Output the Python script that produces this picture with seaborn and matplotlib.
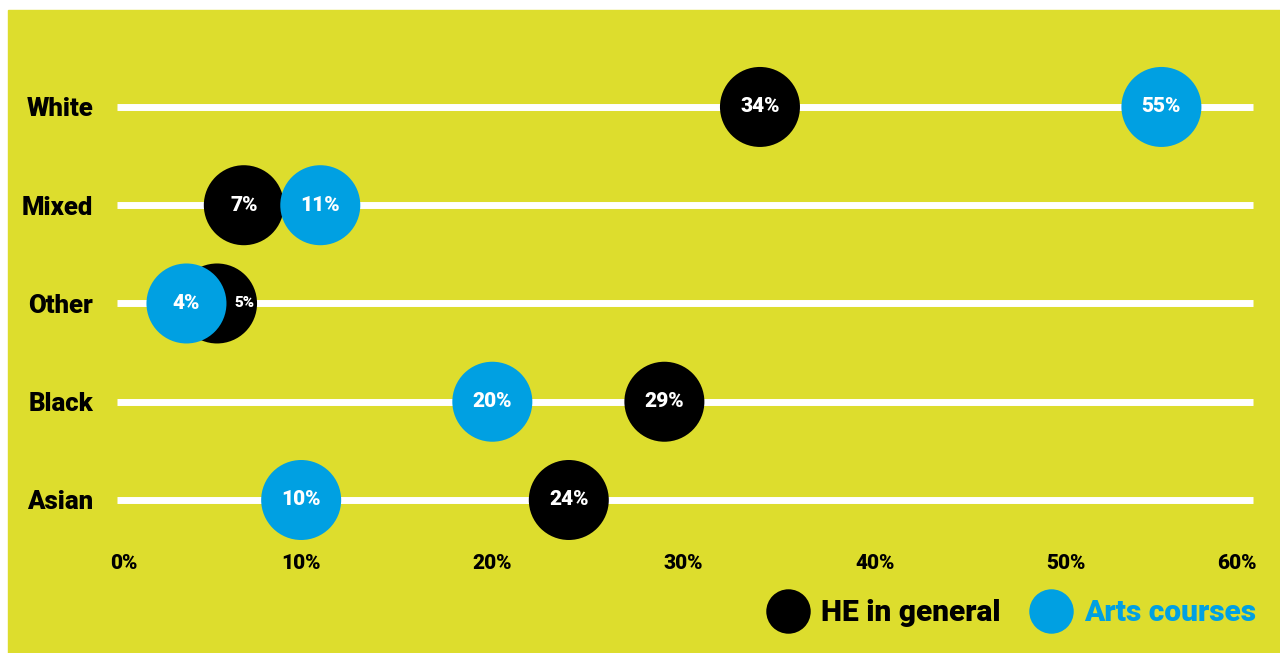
import matplotlib
matplotlib.use("Agg")
import matplotlib.pyplot as plt
from matplotlib.patches import Rectangle
from matplotlib.lines import Line2D
import seaborn as sns
import pandas as pd

# values (circle centres, in %)
groups = ["White", "Mixed", "Other", "Black", "Asian"]
he_general = [34, 7, 5.6, 29, 24]
arts_courses = [55, 11, 4, 20, 10]
he_labels = ["34%", "7%", "5%", "29%", "24%"]
arts_labels = ["55%", "11%", "4%", "20%", "10%"]
ticks = [0, 10, 20, 30, 40, 50, 60]
tick_labels = ["0%", "10%", "20%", "30%", "40%", "50%", "60%"]

bg = "#dddd2d"
blue = "#00a0e2"
black = "#000000"
font = ["Roboto", "Lato", "DejaVu Sans"]

df = pd.DataFrame({
    "group": groups * 2,
    "value": he_general + arts_courses,
    "series": ["HE in general"] * 5 + ["Arts courses"] * 5,
})

sns.set_style("white")
plt.rcParams["font.family"] = font
plt.rcParams["text.color"] = black
plt.rcParams["xtick.color"] = black
plt.rcParams["ytick.color"] = black

fig = plt.figure(figsize=(12.8, 6.53), dpi=100)
fig.patch.set_facecolor("white")
fig.patches.append(Rectangle((8 / 1280, 0), 1 - 8 / 1280, (653 - 10) / 653,
                             transform=fig.transFigure, color=bg, zorder=-5))

ax = fig.add_axes([110 / 1280, 1 - 548 / 653, (1257 - 110) / 1280, (548 - 48) / 653])
ax.patch.set_alpha(0)

# white guide lines
for i in range(len(groups)):
    ax.axhline(i, xmin=7 / 1147, xmax=1143 / 1147, color="white", lw=5,
               solid_capstyle="butt", zorder=1)

sns.stripplot(data=df, x="value", y="group", hue="series", order=groups,
              hue_order=["HE in general", "Arts courses"],
              palette=[black, blue], jitter=False, size=57.6, linewidth=0,
              legend=False, ax=ax, zorder=3)

ax.set_xlim(0, 60)
ax.set_ylim(4 + 48 / 98.25, -0.6)

# labels inside the circles
for i, (v, lab) in enumerate(zip(he_general, he_labels)):
    if lab == "5%":
        ax.annotate(lab, (v, i), xytext=(20, 0), textcoords="offset points",
                    ha="center", va="center", color="white", fontsize=11,
                    weight="black", zorder=5)
    else:
        ax.text(v, i, lab, ha="center", va="center", color="white",
                fontsize=15, weight="black", zorder=5)
for i, (v, lab) in enumerate(zip(arts_courses, arts_labels)):
    ax.text(v, i, lab, ha="center", va="center", color="white",
            fontsize=15, weight="black", zorder=5)

ax.set_xticks(ticks)
ax.set_xticklabels(tick_labels, fontsize=15, weight="black", color=black)
xt = ax.get_xticklabels()
xt[0].set_ha("left")
xt[-1].set_ha("right")
ax.set_yticks(range(len(groups)))
ax.set_yticklabels(groups, fontsize=18.5, weight="black", color=black)
ax.tick_params(axis="x", length=0, pad=4)
ax.tick_params(axis="y", length=0, pad=12)
ax.set_xlabel("")
ax.set_ylabel("")
for s in ax.spines.values():
    s.set_visible(False)

handles = [
    Line2D([], [], marker="o", ls="", markersize=32, markerfacecolor=black, markeredgewidth=0),
    Line2D([], [], marker="o", ls="", markersize=32, markerfacecolor=blue, markeredgewidth=0),
]
leg = fig.legend(handles, ["HE in general", "Arts courses"], loc="center right",
                 bbox_to_anchor=(1283 / 1280, 1 - 613 / 653), ncol=2, frameon=False,
                 prop={"family": font, "size": 21.5, "weight": "black"},
                 handletextpad=0.4, columnspacing=1.0, handlelength=1.4)
leg.get_texts()[0].set_color(black)
leg.get_texts()[1].set_color(blue)

fig.savefig("out.png", dpi=100, facecolor=fig.get_facecolor())
